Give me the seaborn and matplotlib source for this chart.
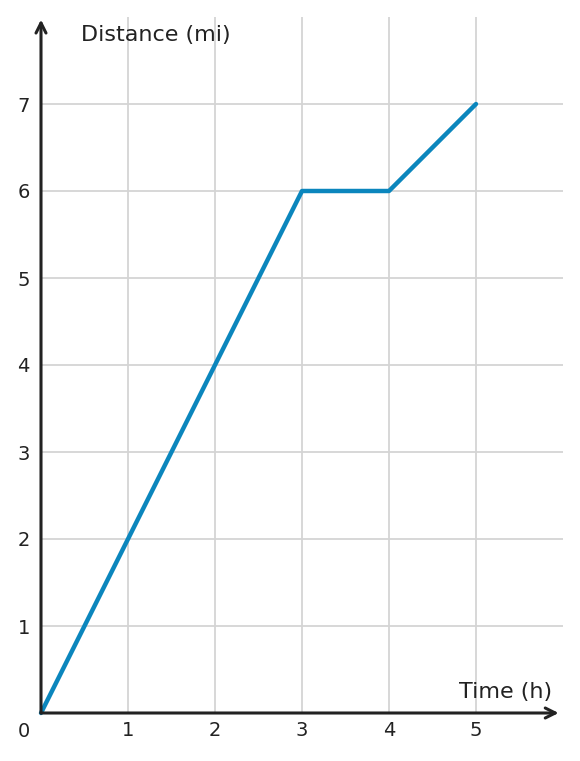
import matplotlib
matplotlib.use("Agg")
import matplotlib.pyplot as plt
import seaborn as sns
import pandas as pd

time_h = [0, 3, 4, 5]
distance_mi = [0, 6, 6, 7]
x_ticks = [1, 2, 3, 4, 5]
y_ticks = [1, 2, 3, 4, 5, 6, 7]

sns.set_theme(style="white")
plt.rcParams['font.family'] = ['DejaVu Sans']

W, H = 580, 761
fig = plt.figure(figsize=(W / 100, H / 100), dpi=100)
ax = fig.add_axes([41 / W, (H - 713) / H, 522 / W, 696 / H])

df = pd.DataFrame({"Time": time_h, "Distance": distance_mi})
sns.lineplot(data=df, x="Time", y="Distance", ax=ax, color="#0b86bd",
             linewidth=3.2, solid_capstyle="round", zorder=5, clip_on=False)

ax.set_xlim(0, 6)
ax.set_ylim(0, 8)
ax.set_xticks(x_ticks)
ax.set_yticks(y_ticks)
ax.set_xticklabels([str(v) for v in x_ticks])
ax.set_yticklabels([str(v) for v in y_ticks])
ax.grid(True, color="#d4d4d4", linewidth=1.3)
ax.set_axisbelow(True)
ax.set_xlabel("")
ax.set_ylabel("")

for s in ["top", "right", "left", "bottom"]:
    ax.spines[s].set_visible(False)

dark = "#222222"
ax.tick_params(axis="both", which="both", direction="in", length=4, width=2,
               color=dark, labelsize=14, labelcolor=dark)
ax.tick_params(axis="x", pad=6)
ax.tick_params(axis="y", pad=8)

# axis arrows
ax.annotate("", xy=(5.95, 0), xytext=(0, 0), xycoords="data",
            arrowprops=dict(arrowstyle="->", color=dark, lw=2.2,
                            mutation_scale=18, shrinkA=0, shrinkB=0),
            annotation_clip=False, zorder=6)
ax.annotate("", xy=(0, 7.97), xytext=(0, 0), xycoords="data",
            arrowprops=dict(arrowstyle="->", color=dark, lw=2.2,
                            mutation_scale=18, shrinkA=0, shrinkB=0),
            annotation_clip=False, zorder=6)

ax.text(0.46, 7.79, "Distance (mi)", fontsize=16, color=dark,
        ha="left", va="center")
ax.text(5.88, 0.24, "Time (h)", fontsize=16, color=dark,
        ha="right", va="center")
ax.text(-0.2, -0.21, "0", fontsize=14, color=dark, ha="center", va="center")

fig.savefig("out.png", dpi=100)
